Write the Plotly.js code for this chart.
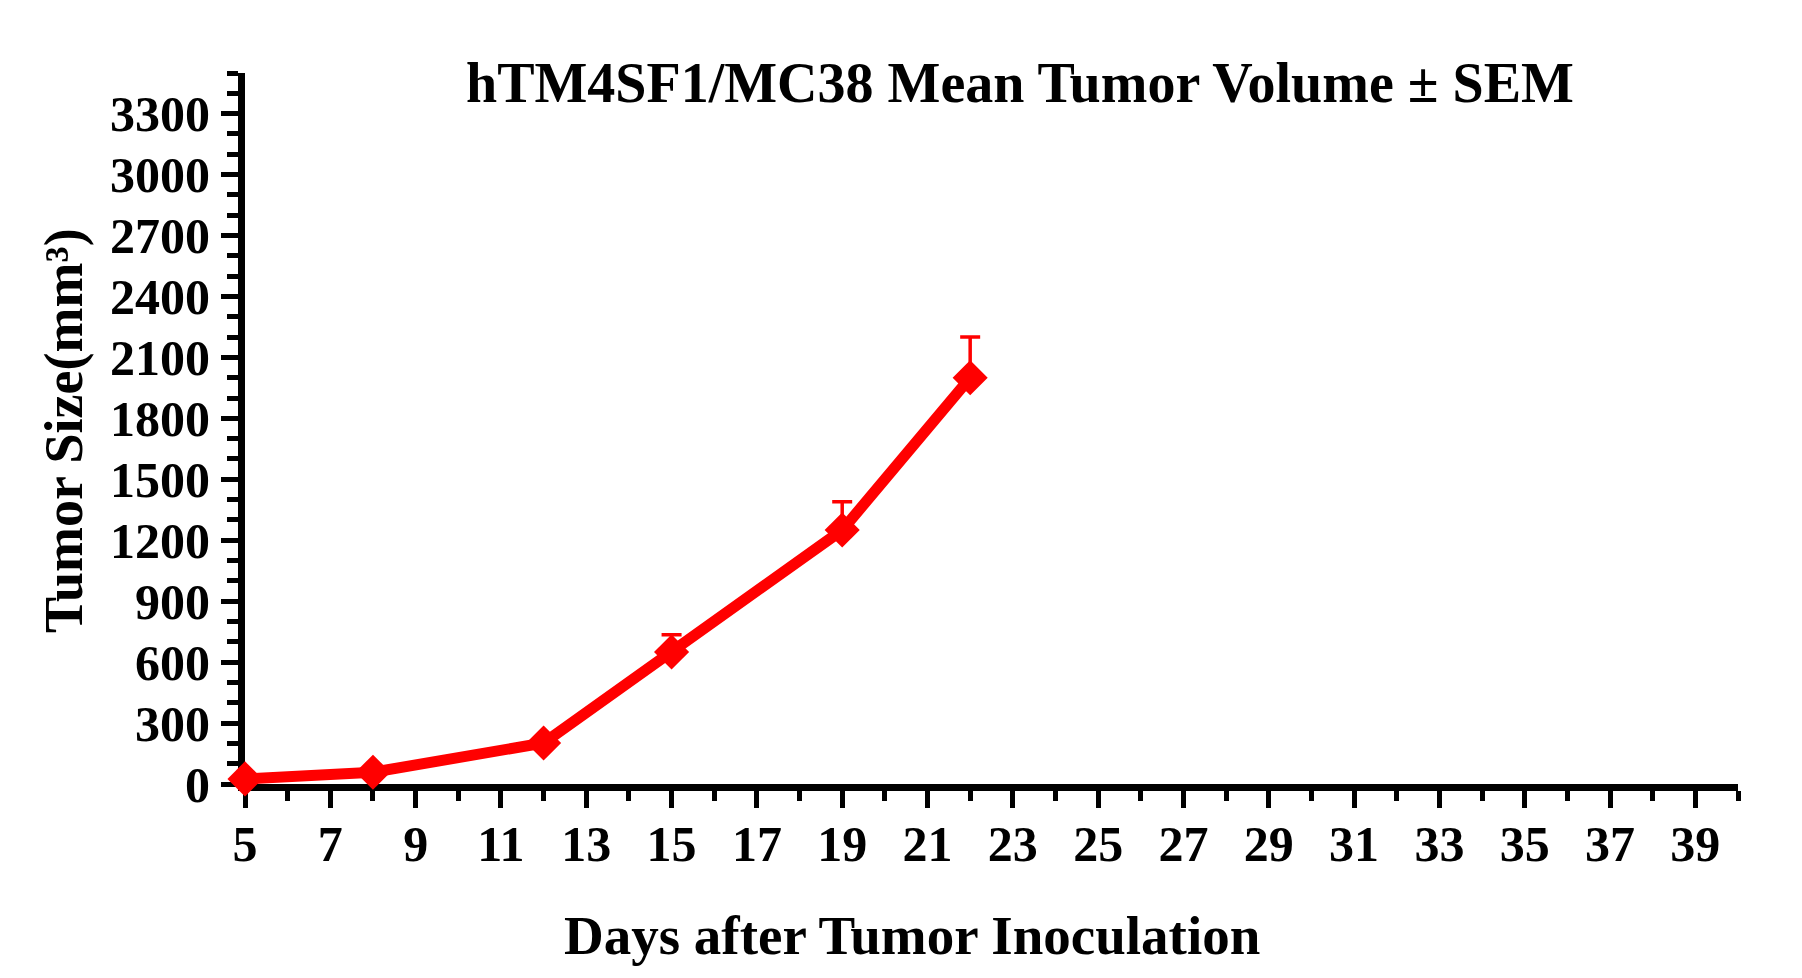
<!DOCTYPE html>
<html>
<head>
<meta charset="utf-8">
<script src="https://cdn.plot.ly/plotly-3.0.1.min.js"></script>
<style>
  html, body { margin: 0; padding: 0; background: #fff; }
  #chart { width: 1802px; height: 978px; }
</style>
</head>
<body>
<div id="chart"></div>
<script>
// days after inoculation and mean tumour volume (mm3) with SEM
var days = [5, 8, 12, 15, 19, 22];
var meanVolume = [25, 58, 202, 650, 1250, 2000];
var semVolume = [5, 8, 20, 85, 140, 200];

var chartTitle = 'hTM4SF1/MC38 Mean Tumor Volume \u00b1 SEM';
var xTitle = 'Days after Tumor Inoculation';
var yTitle = 'Tumor Size(mm\u00b3)';

var FONT = '"Liberation Serif", "Times New Roman", serif';
var RED = '#ff0000';

var trace1 = {
    x: days,
    y: meanVolume,
    type: 'scatter',
    mode: 'lines+markers',
    cliponaxis: false,
    line: { color: RED, width: 11 },
    marker: { symbol: 'diamond', size: 27, color: RED },
    error_y: {
        type: 'data',
        array: semVolume,
        arrayminus: semVolume.map(function () { return 0; }),
        symmetric: false,
        color: RED,
        thickness: 3.5,
        width: 10
    },
    hoverinfo: 'skip'
};

var axisCommon = {
    showline: true,
    linecolor: '#000',
    linewidth: 7,
    showgrid: false,
    zeroline: false,
    ticks: 'outside',
    tickcolor: '#000',
    tickwidth: 5,
    ticklen: 17,
    layer: 'below traces',
    tickfont: { family: FONT, size: 50, color: '#000', weight: 'bold' }
};

var layout = {
    width: 1802,
    height: 978,
    paper_bgcolor: '#fff',
    plot_bgcolor: '#fff',
    showlegend: false,
    margin: { l: 245, r: 64, t: 73, b: 194 },
    font: { family: FONT, color: '#000' },
    xaxis: Object.assign({}, axisCommon, {
        range: [5, 40],
        tick0: 5,
        dtick: 2,
        ticklabelstandoff: -7,
        minor: { dtick: 1, ticks: 'outside', ticklen: 10, tickwidth: 5, tickcolor: '#000' }
    }),
    yaxis: Object.assign({}, axisCommon, {
        range: [0, 3500],
        tick0: 0,
        dtick: 300,
        ticklabelstandoff: 1,
        minor: { dtick: 100, ticks: 'outside', ticklen: 11, tickwidth: 5, tickcolor: '#000' }
    }),
    annotations: [
        {
            text: chartTitle, xref: 'paper', yref: 'paper',
            x: (1020 - 245) / 1493, y: 1, yshift: -10,
            xanchor: 'center', yanchor: 'middle', showarrow: false,
            font: { family: FONT, size: 56, color: '#000', weight: 'bold' }
        },
        {
            text: xTitle, xref: 'paper', yref: 'paper',
            x: (912 - 245) / 1493, y: 0, yshift: -151,
            xanchor: 'center', yanchor: 'middle', showarrow: false,
            font: { family: FONT, size: 55, color: '#000', weight: 'bold' }
        },
        {
            text: yTitle, xref: 'paper', yref: 'paper',
            x: 0, xshift: -181, y: (784 - 431) / 711,
            xanchor: 'center', yanchor: 'middle', showarrow: false, textangle: -90,
            font: { family: FONT, size: 54, color: '#000', weight: 'bold' }
        }
    ]
};

Plotly.newPlot('chart', [trace1], layout, { staticPlot: true, displayModeBar: false });
</script>
</body>
</html>
